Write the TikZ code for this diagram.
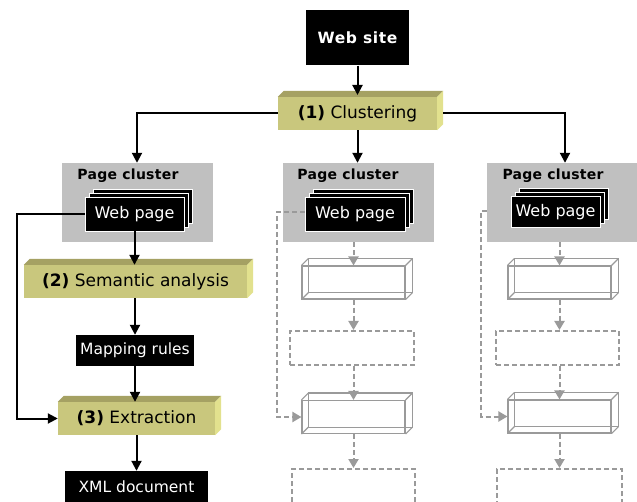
\documentclass[tikz,border=0pt]{standalone}
\usepackage{fontspec}
\setmainfont{DejaVu Sans}
\usetikzlibrary{arrows.meta}
\definecolor{oliveF}{HTML}{C9C77D}
\definecolor{oliveT}{HTML}{A5A163}
\definecolor{oliveR}{HTML}{E2E18E}
\definecolor{clusterG}{HTML}{C0C0C0}
\definecolor{wireG}{HTML}{9A9A9A}
\newcommand{\fsz}[1]{\fontsize{#1}{#1}\selectfont}
\begin{document}
\begin{tikzpicture}[x=1pt,y=-1pt,
  blk/.style={fill=black,text=white,inner sep=0pt,font=\fsz{15.5}},
  pagebox/.style={fill=black,draw=white,line width=0.8pt,text=white,inner sep=0pt,font=\fsz{16},minimum height=34pt},
  olivebox/.style={fill=oliveF,inner sep=0pt,font=\fsz{17},minimum height=33pt},
  oliveTop/.style={fill=oliveT},
  oliveRight/.style={fill=oliveR},
  clusterbox/.style={fill=clusterG,inner sep=0pt,minimum height=79pt},
  clustertitle/.style={font=\fsz{14}\bfseries\addfontfeatures{LetterSpace=2},inner sep=0pt},
  wire/.style={draw=wireG,line width=1.1pt},
  wirefront/.style={wire,inner sep=0pt,minimum height=33pt,minimum width=103pt},
  dashbox/.style={draw=wireG,line width=2pt,dash pattern=on 5pt off 3pt},
  flow/.style={line width=2pt,-{Triangle[length=10pt,width=10pt]}},
  gflow/.style={draw=wireG,line width=2pt,dash pattern=on 5pt off 3pt,-{Triangle[length=9pt,width=10pt]}},
]
\clip (0,0) rectangle (637,502);
\fill[white] (0,0) rectangle (637,502);

% Web site
\node[blk,minimum width=103pt,minimum height=55pt,font=\fsz{15.5}\bfseries\addfontfeatures{LetterSpace=4}] (site) at (357.5,38) {Web site};

% Clustering
\node[olivebox,minimum width=159pt] (clu) at (357.5,113.5) {\textbf{(1)} Clustering};
\fill[oliveTop] (clu.north west) -- ++(6,-6) -- ([shift={(6,-6)}]clu.north east) -- (clu.north east) -- cycle;
\fill[oliveRight] (clu.north east) -- ++(6,-6) -- ([shift={(6,-6)}]clu.south east) -- (clu.south east) -- cycle;

% Page clusters
\node[clusterbox,minimum width=151pt] (pcL) at (137.5,202.5) {};
\node[clusterbox,minimum width=151pt] (pcM) at (358.5,202.5) {};
\node[clusterbox,minimum width=150pt] (pcR) at (562,202.5) {};
\node[clustertitle] (ptL) at (128,176) {Page cluster};
\node[clustertitle] (ptM) at (348,176) {Page cluster};
\node[clustertitle] (ptR) at (553,176) {Page cluster};

% Web page stacks
\node[pagebox,minimum width=99pt] (wL3) at (142.5,206) {};
\node[pagebox,minimum width=99pt] (wL2) at (138.5,210) {};
\node[pagebox,minimum width=99pt] (wL) at (134.5,214) {Web page};
\node[pagebox,minimum width=100pt] (wM3) at (363,206) {};
\node[pagebox,minimum width=100pt] (wM2) at (359,210) {};
\node[pagebox,minimum width=100pt] (wM) at (355,214) {Web page};
\node[pagebox,minimum width=89pt,minimum height=31pt] (wR3) at (563.5,204) {};
\node[pagebox,minimum width=89pt,minimum height=31pt] (wR2) at (559.5,208) {};
\node[pagebox,minimum width=89pt,minimum height=31pt] (wR) at (555.5,212) {Web page};

% Left column
\node[olivebox,minimum width=223pt] (sem) at (135.5,281.5) {\textbf{(2)} Semantic analysis};
\fill[oliveTop] (sem.north west) -- ++(6,-6) -- ([shift={(6,-6)}]sem.north east) -- (sem.north east) -- cycle;
\fill[oliveRight] (sem.north east) -- ++(6,-6) -- ([shift={(6,-6)}]sem.south east) -- (sem.south east) -- cycle;

\node[blk,minimum width=118pt,minimum height=31pt] (map) at (135,350.5) {Mapping rules};

\node[olivebox,minimum width=157pt] (ext) at (136.5,418.5) {\textbf{(3)} Extraction};
\fill[oliveTop] (ext.north west) -- ++(6,-6) -- ([shift={(6,-6)}]ext.north east) -- (ext.north east) -- cycle;
\fill[oliveRight] (ext.north east) -- ++(6,-6) -- ([shift={(6,-6)}]ext.south east) -- (ext.south east) -- cycle;

\node[blk,minimum width=143pt,minimum height=31pt] (xml) at (136.5,486.5) {XML document};

% Middle and right wire boxes
\foreach \n/\cx/\cy in {mA/353.5/282.5, mB/353.5/417, rA/559.5/282.5, rB/559.5/416.5}{
  \node[wirefront] (\n) at (\cx,\cy) {};
  \draw[wire] ([shift={(7,-7)}]\n.south west) rectangle ([shift={(7,-7)}]\n.north east);
  \draw[wire] (\n.north west) -- ++(7,-7) (\n.north east) -- ++(7,-7)
              (\n.south west) -- ++(7,-7) (\n.south east) -- ++(7,-7);
}
\node[dashbox,minimum width=124pt,minimum height=34pt,inner sep=0pt] (mC) at (352,348) {};
\node[dashbox,minimum width=123pt,minimum height=34pt,inner sep=0pt] (rC) at (557.5,348) {};
\node[dashbox,minimum width=123pt,minimum height=46pt,inner sep=0pt] (mD) at (353.5,492) {};
\node[dashbox,minimum width=125pt,minimum height=46pt,inner sep=0pt] (rD) at (559.5,492) {};

% Black connectors
\draw[flow] (site.south) -- (357.5,95);
\draw[flow] (clu.west) -| (pcL.north -| 137,0);
\draw[flow] ([xshift=6pt]clu.east) -| (pcR.north -| 565,0);
\draw[flow] (clu.south) -- (pcM.north -| clu.south);
\draw[flow] (wL.south) -- (sem.north -| wL.south);
\draw[flow] (sem.south -| map.north) -- (map.north);
\draw[flow] (map.south) -- (ext.north -| map.south);
\draw[flow] (ext.south -| xml.north) -- (xml.north);
\draw[flow] (wL.west) -- (17,214) |- (ext.west);

% Gray dashed connectors
\draw[gflow] (pcM.south -| mA.north) -- (mA.north);
\draw[gflow] (mA.south) -- (mC.north -| mA.south);
\draw[gflow] (mC.south -| mB.north) -- (mB.north);
\draw[gflow] (mB.south) -- (mD.north -| mB.south);
\draw[gflow] (wM.west |- 0,212) -- (277,212) |- (mB.west);

\draw[gflow] (pcR.south -| rA.north) -- (rA.north);
\draw[gflow] (rA.south) -- (rC.north -| rA.south);
\draw[gflow] (rC.south -| rB.north) -- (rB.north);
\draw[gflow] (rB.south) -- (rD.north -| rB.south);
\draw[gflow] (pcR.west |- 0,211) -- (481,211) |- (rB.west);
\end{tikzpicture}
\end{document}
